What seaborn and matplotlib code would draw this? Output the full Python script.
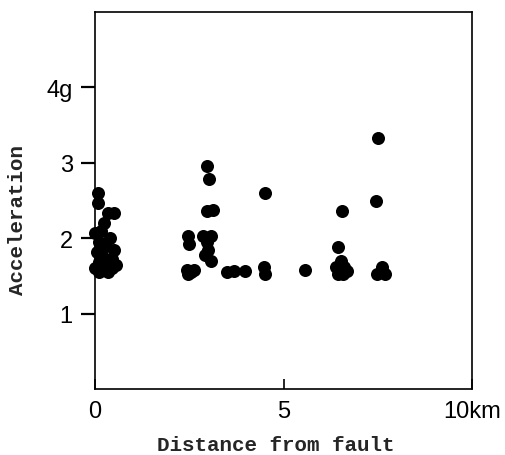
import numpy as np
import pandas as pd
import matplotlib
matplotlib.use("Agg")
import matplotlib.pyplot as plt
import seaborn as sns

# distance from fault (km) and peak acceleration (g)
dist_near = [0.08, 0.08, 0.35, 0.50, 0.00, 0.25, 0.15, 0.40, 0.10, 0.30, 0.50,
             0.05, 0.20, 0.45, 0.10, 0.30, 0.00, 0.20, 0.45, 0.10, 0.35, 0.55]
acc_near = [2.60, 2.47, 2.33, 2.33, 2.07, 2.20, 2.10, 2.00, 1.95, 1.90, 1.85,
            1.82, 1.75, 1.72, 1.68, 1.65, 1.60, 1.58, 1.60, 1.55, 1.55, 1.65]

dist_mid = [2.97, 3.03, 2.97, 3.12, 2.47, 2.50, 2.86, 3.08, 2.97, 3.00, 2.92,
            3.08, 2.45, 2.48, 2.62, 2.55, 3.50, 3.68, 3.98, 4.50, 4.47, 4.50, 5.57]
acc_mid = [2.96, 2.79, 2.36, 2.38, 2.03, 1.92, 2.03, 2.03, 1.95, 1.85, 1.78,
           1.70, 1.58, 1.52, 1.58, 1.55, 1.55, 1.56, 1.57, 2.60, 1.62, 1.52, 1.58]

dist_far = [6.55, 6.45, 6.40, 6.52, 6.60, 6.45, 6.58, 6.68,
            7.50, 7.45, 7.62, 7.48, 7.70, 7.58]
acc_far = [2.36, 1.88, 1.62, 1.70, 1.62, 1.52, 1.52, 1.57,
           3.33, 2.49, 1.62, 1.52, 1.52, 1.55]

df = pd.DataFrame({
    "distance": dist_near + dist_mid + dist_far,
    "acceleration": acc_near + acc_mid + acc_far,
})

xticks = [0, 5, 10]
xtick_labels = ["0", "5", "10km"]
yticks = [1, 2, 3, 4]
ytick_labels = ["1", "2", "3", "4g"]

sns.set_style("white")
plt.rcParams["font.family"] = ["Liberation Sans", "DejaVu Sans"]

fig = plt.figure(figsize=(5.05, 4.56), dpi=100)
ax = fig.add_axes([95 / 505, 1 - 390 / 456, 377 / 505, 377 / 456])

sns.scatterplot(data=df, x="distance", y="acceleration", ax=ax,
                color="black", s=88, linewidth=0, clip_on=False, zorder=3)

ax.set_xlim(0, 10)
ax.set_ylim(0, 5)

for sp in ax.spines.values():
    sp.set_color("black")
    sp.set_linewidth(1.2)

ax.set_xticks(xticks)
ax.set_xticklabels(xtick_labels, fontsize=17)
ax.set_yticks(yticks)
ax.set_yticklabels(ytick_labels, fontsize=17)
ax.tick_params(axis="x", bottom=True, direction="in", length=7, width=1.2,
               pad=8, colors="black")
ax.tick_params(axis="y", left=True, direction="out", length=10, width=1.6,
               pad=6, colors="black")

ax.set_xlabel("Distance from fault", family="Liberation Mono", fontsize=15,
              fontweight="bold", va="center")
ax.set_ylabel("Acceleration", family="Liberation Mono", fontsize=15,
              fontweight="bold", va="center")
ax.xaxis.set_label_coords(0.48, -0.147)
ax.yaxis.set_label_coords(-0.205, 0.45)

fig.savefig("out.png", dpi=100)
